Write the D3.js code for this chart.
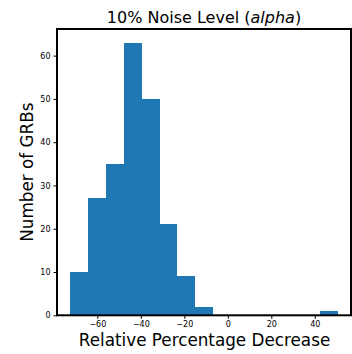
<!DOCTYPE html>
<html><head><meta charset="utf-8">
<script src="https://cdn.jsdelivr.net/npm/d3@7"></script>
<style>body{margin:0;background:#fff}svg{display:block}text{font-family:"DejaVu Sans",sans-serif;fill:#000}</style>
</head><body>
<svg id="c" width="352" height="354"></svg>
<script>
const binEdges = [-72.4, -64.2, -56.0, -47.8, -39.6, -31.4, -23.3, -15.1, -6.9, 1.3, 9.5, 17.7, 25.9, 34.1, 42.3, 50.5];
const counts = [10, 27, 35, 63, 50, 21, 9, 2, 0, 0, 0, 0, 0, 0, 1];
const xTicks = [-60, -40, -20, 0, 20, 40];
const yTicks = [0, 10, 20, 30, 40, 50, 60];
const title = "10% Noise Level (";
const titleItalic = "alpha";
const xLabel = "Relative Percentage Decrease";
const yLabel = "Number of GRBs";

const svg = d3.select("#c");
const L = 57, R = 351, T = 29, B = 315.3;
const span = binEdges[binEdges.length-1] - binEdges[0];
const x = d3.scaleLinear().domain([binEdges[0] - span*0.05, binEdges[binEdges.length-1] + span*0.05]).range([L, R]);
const y = d3.scaleLinear().domain([0, d3.max(counts)*1.05]).range([B, T]);

const bins = counts.map((c,i)=>({x0:binEdges[i], x1:binEdges[i+1], c}));
svg.append("g").selectAll("rect").data(bins.filter(d=>d.c>0)).join("rect")
  .attr("x", d=>x(d.x0)).attr("width", d=>x(d.x1)-x(d.x0))
  .attr("y", d=>y(d.c)).attr("height", d=>y(0)-y(d.c))
  .attr("fill", "#1f77b4").attr("shape-rendering","crispEdges");

const fmt = v => v < 0 ? "\u2212" + Math.abs(v) : String(v);
const xa = svg.append("g").attr("transform", `translate(0,${B})`)
  .call(d3.axisBottom(x).tickValues(xTicks).tickFormat(fmt).tickSize(3.5).tickPadding(3));
const ya = svg.append("g").attr("transform", `translate(${L},0)`)
  .call(d3.axisLeft(y).tickValues(yTicks).tickFormat(fmt).tickSize(3.5).tickPadding(3));
[xa, ya].forEach(g=>{
  g.select(".domain").remove();
  g.selectAll("text").style("font-size","8px").attr("fill","#000");
  g.selectAll("line").attr("stroke","#000").attr("stroke-width",1);
});
// spines
svg.append("rect").attr("x",L).attr("y",T).attr("width",R-L).attr("height",B-T)
  .attr("fill","none").attr("stroke","#000").attr("stroke-width",2);

const t = svg.append("text").attr("x",(L+R)/2).attr("y",23).attr("text-anchor","middle").style("font-size","16px");
t.append("tspan").text(title);
t.append("tspan").style("font-style","italic").text(titleItalic);
t.append("tspan").text(")");

svg.append("text").attr("x",(L+R)/2 + 0.5).attr("y",346).attr("text-anchor","middle").style("font-size","16.8px").text(xLabel);
svg.append("text").attr("transform",`translate(33,${(T+B)/2}) rotate(-90)`).attr("text-anchor","middle").style("font-size","16.8px").text(yLabel);
</script>
</body></html>
